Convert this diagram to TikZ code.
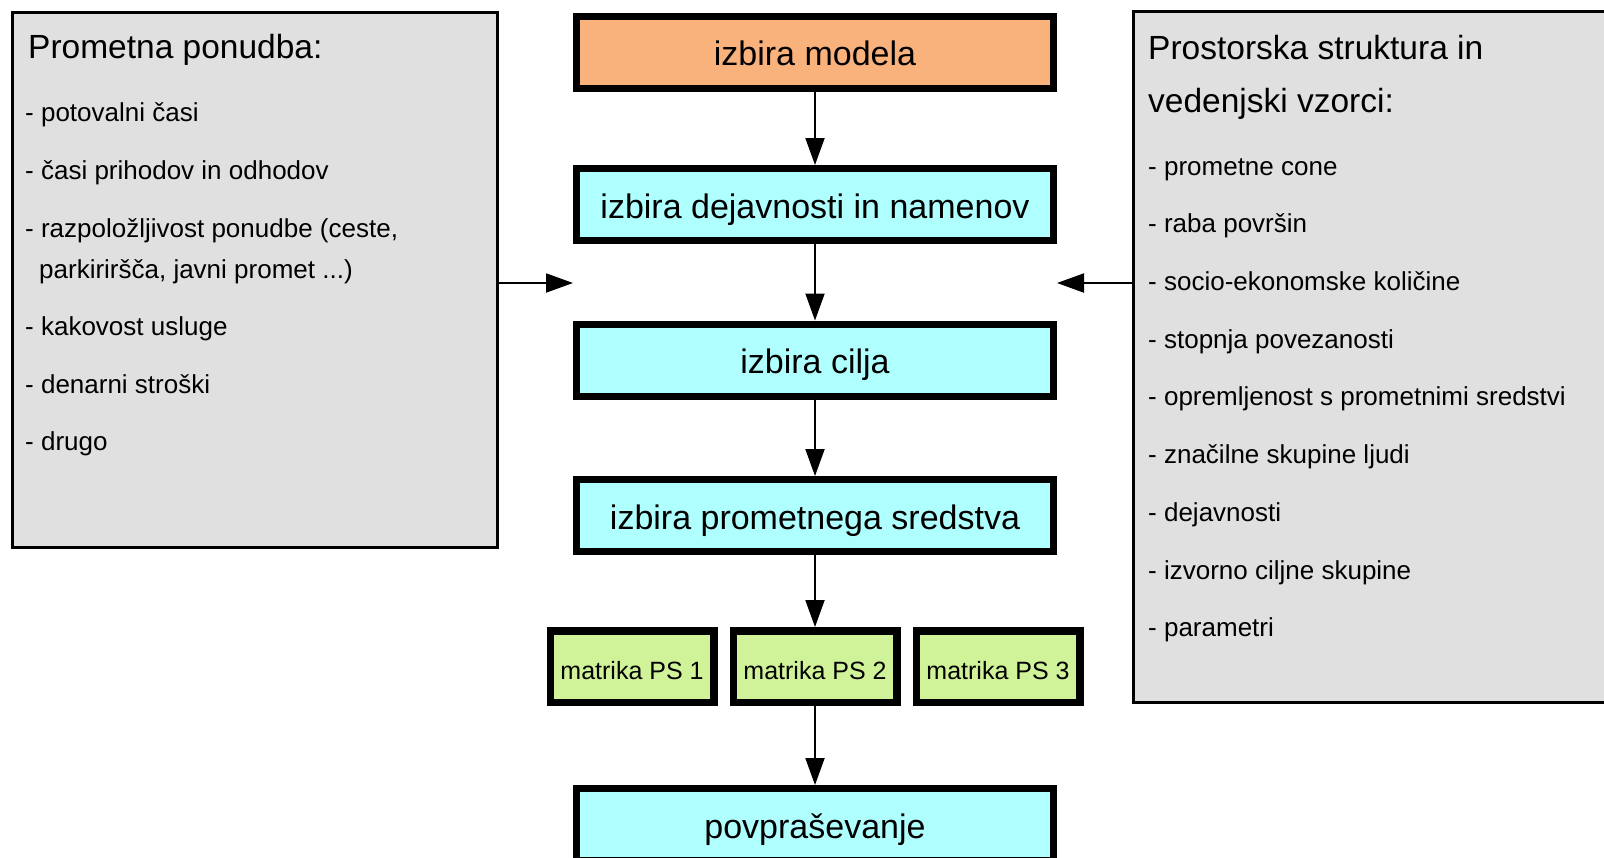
\documentclass[tikz,border=0pt]{standalone}
\usepackage{fontspec}
\setmainfont{Liberation Sans}
\usetikzlibrary{arrows.meta}

\definecolor{ModelOrange}{HTML}{F9B27B}
\definecolor{StepCyan}{HTML}{AFFFFF}
\definecolor{MatrixGreen}{HTML}{D0F298}
\definecolor{PanelGray}{HTML}{E0E0E0}

\tikzset{
  stagebox/.style={draw, line width=7pt, fill=StepCyan, minimum width=477pt,
    minimum height=72pt, inner sep=0pt, text height=27pt, text depth=0pt,
    font=\fontsize{34}{40}\selectfont},
  matbox/.style={draw, line width=7.5pt, fill=MatrixGreen, minimum width=163.5pt,
    minimum height=71.5pt, inner sep=0pt, text height=25pt, text depth=0pt,
    font=\fontsize{25}{30}\selectfont},
  panel/.style={draw, line width=3pt, fill=PanelGray, inner sep=0pt},
  paneltitle/.style={anchor=base west, inner sep=0pt, font=\fontsize{33.5}{40}\selectfont},
  panelitem/.style={anchor=base west, inner sep=0pt, font=\fontsize{26}{30}\selectfont},
  flow/.style={-{Triangle[length=27pt,width=19pt]}, line width=2pt}
}

\begin{document}
\begin{tikzpicture}[x=1pt,y=-1pt]
  \useasboundingbox (0,0) rectangle (1604,857);
  \clip (0,0) rectangle (1604,857);

  % side panels
  \node[panel, minimum width=485pt, minimum height=535pt] (ponudba) at (255,280) {};
  \node[panel, minimum width=507pt, minimum height=691pt] (struktura) at (1387,357) {};

  \node[paneltitle] (ponudbaT) at (28,58) {Prometna ponudba:};
  \foreach \y/\txt [count=\i] in {121/{- potovalni časi},
      179/{- časi prihodov in odhodov},
      237/{- razpoložljivost ponudbe (ceste,},
      335/{- kakovost usluge}, 393/{- denarni stroški}, 450/{- drugo}}
    \node[panelitem] (pon\i) at (25,\y) {\txt};
  \node[panelitem] (ponWrap) at (39,278) {parkiriršča, javni promet ...)};

  \node[paneltitle] (strukturaT1) at (1148,59) {Prostorska struktura in};
  \node[paneltitle] (strukturaT2) at (1148,112) {vedenjski vzorci:};
  \foreach \y/\txt [count=\i] in {175.5/{- prometne cone}, 232/{- raba površin},
      290/{- socio-ekonomske količine}, 348/{- stopnja povezanosti},
      405/{- opremljenost s prometnimi sredstvi},
      463/{- značilne skupine ljudi}, 521.5/{- dejavnosti},
      579/{- izvorno ciljne skupine}, 636.5/{- parametri}}
    \node[panelitem] (str\i) at (1148,\y) {\txt};

  % model chain
  \node[stagebox, fill=ModelOrange] (modela) at (815,52) {izbira modela};
  \node[stagebox] (dejavnosti) at (815,204.5) {izbira dejavnosti in namenov};
  \node[stagebox] (cilj) at (815,360) {izbira cilja};
  \node[stagebox] (sredstvo) at (815,515.5) {izbira prometnega sredstva};
  \foreach \x/\k in {632/1,815/2,998/3}
    \node[matbox] (ps\k) at (\x,666.5) {matrika PS \k};
  \node[stagebox] (povpr) at (815,824.5) {povpraševanje};

  \draw[flow] (modela) -- (dejavnosti);
  \draw[flow] (dejavnosti) -- (cilj);
  \draw[flow] (cilj) -- (sredstvo);
  \draw[flow] (sredstvo) -- (ps2);
  \draw[flow] (ps2) -- (povpr);

  % inputs from the panels
  \coordinate (inL) at (573,283);
  \coordinate (inR) at (1057,283);
  \draw[flow] (ponudba.east |- inL) -- (inL);
  \draw[flow] (struktura.west |- inR) -- (inR);
\end{tikzpicture}
\end{document}
